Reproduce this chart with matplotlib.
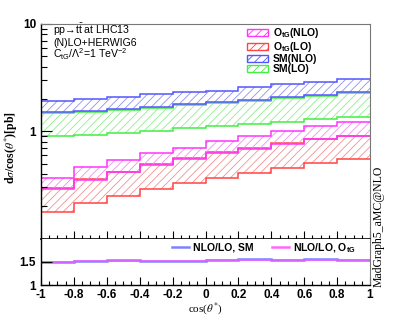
import numpy as np
import matplotlib
matplotlib.use('Agg')
import matplotlib.pyplot as plt
from matplotlib.patches import Patch
from matplotlib.lines import Line2D
from matplotlib.ticker import FixedLocator, NullFormatter, MultipleLocator

plt.rcParams['font.family'] = ['Liberation Sans', 'DejaVu Sans']
plt.rcParams['mathtext.fontset'] = 'custom'
plt.rcParams['mathtext.rm'] = 'Liberation Sans'
plt.rcParams['mathtext.it'] = 'Liberation Sans:italic'
plt.rcParams['mathtext.bf'] = 'Liberation Sans:bold'
plt.rcParams['hatch.linewidth'] = 0.6

# cos(theta*) bins
edges = np.linspace(-1, 1, 11)

# SM NLO band
sm_nlo_hi = [1.93, 2.00, 2.10, 2.21, 2.31, 2.39, 2.61, 2.76, 2.90, 3.05]
sm_nlo_lo = [1.505, 1.55, 1.615, 1.70, 1.79, 1.865, 1.97, 2.09, 2.20, 2.33]
# SM LO band
sm_lo_hi = [1.47, 1.52, 1.58, 1.66, 1.75, 1.83, 1.93, 2.05, 2.15, 2.28]
sm_lo_lo = [0.90, 0.925, 0.965, 1.01, 1.075, 1.13, 1.17, 1.23, 1.295, 1.37]
# O_tG NLO band
otg_nlo_hi = [0.37, 0.462, 0.541, 0.624, 0.704, 0.818, 0.905, 1.014, 1.13, 1.23]
otg_nlo_lo = [0.29, 0.355, 0.415, 0.487, 0.555, 0.635, 0.688, 0.766, 0.84, 0.90]
# O_tG LO band
otg_lo_hi = [0.295, 0.36, 0.42, 0.493, 0.561, 0.642, 0.695, 0.774, 0.849, 0.911]
otg_lo_lo = [0.176, 0.214, 0.252, 0.289, 0.328, 0.37, 0.412, 0.452, 0.504, 0.549]

# NLO/LO ratios
ratio_sm = [1.507, 1.51, 1.54, 1.52, 1.525, 1.545, 1.565, 1.55, 1.565, 1.55]
ratio_otg = [1.49, 1.51, 1.51, 1.52, 1.525, 1.545, 1.53, 1.55, 1.535, 1.55]

W, H = 411, 318
fig = plt.figure(figsize=(W / 100, H / 100), dpi=100)
ax = fig.add_axes([41 / W, 1 - 238.7 / H, 329 / W, 214.7 / H])
rax = fig.add_axes([41 / W, 1 - 285 / H, 329 / W, 46.3 / H], sharex=ax)


def band(a, lo, hi, line_col, hatch_col):
    lo2 = np.append(lo, lo[-1])
    hi2 = np.append(hi, hi[-1])
    a.fill_between(edges, lo2, hi2, step='post', facecolor='none',
                   edgecolor=hatch_col, hatch='////', linewidth=0)
    a.stairs(hi, edges, color=line_col, lw=1.1, baseline=None)
    a.stairs(lo, edges, color=line_col, lw=1.1, baseline=None)


band(ax, sm_lo_lo, sm_lo_hi, '#44ee44', '#90ee90')
band(ax, sm_nlo_lo, sm_nlo_hi, '#5555ff', '#9090ee')
band(ax, otg_lo_lo, otg_lo_hi, '#ff4444', '#f59090')
band(ax, otg_nlo_lo, otg_nlo_hi, '#ff33ff', '#f090f0')

ax.set_yscale('log')
ax.set_ylim(0.1, 10)
ax.set_xlim(-1, 1)
ax.yaxis.set_major_locator(FixedLocator([1, 10]))
ax.yaxis.set_major_formatter(matplotlib.ticker.FixedFormatter(['1', '10']))
ax.yaxis.set_minor_locator(FixedLocator([s * 10.0 ** k for k in (-1, 0) for s in range(2, 10)]))
ax.yaxis.set_minor_formatter(NullFormatter())
ax.xaxis.set_major_locator(MultipleLocator(0.2))
ax.xaxis.set_minor_locator(MultipleLocator(0.05))
ax.tick_params(which='both', direction='in', top=False, right=False, labelbottom=False)
ax.tick_params(axis='y', which='major', length=8, width=0.8)
ax.tick_params(axis='y', which='minor', length=4.5, width=0.8)
ax.tick_params(axis='x', which='major', length=6, width=0.8)
ax.tick_params(axis='x', which='minor', length=3, width=0.8)
for lab in ax.get_yticklabels():
    lab.set_fontweight('bold')
    lab.set_fontsize(8.5)
for s in ('top', 'right'):
    ax.spines[s].set_color('#777777')
    ax.spines[s].set_linewidth(0.8)
ax.spines['left'].set_linewidth(1.0)
ax.spines['bottom'].set_linewidth(1.2)

handles = [Patch(facecolor='none', edgecolor='#ff33ff', hatch='////', lw=1),
           Patch(facecolor='none', edgecolor='#ff4444', hatch='////', lw=1),
           Patch(facecolor='none', edgecolor='#5555ff', hatch='////', lw=1),
           Patch(facecolor='none', edgecolor='#44ee44', hatch='////', lw=1)]
labels = [r'O$_{\bf tG}$(NLO)', r'O$_{\bf tG}$(LO)', 'SM(NLO)', 'SM(LO)']
leg = ax.legend(handles, labels, loc='upper left', bbox_to_anchor=(0.62, 1.0),
                frameon=False, handlelength=2.0, handleheight=0.75, handletextpad=0.45,
                labelspacing=0.0, borderpad=0.2, borderaxespad=0,
                prop={'weight': 'bold', 'size': 7.5})

ax.text(53 / W, 1 - 33.5 / H, r'pp→t$\bar{\rm t}$ at LHC13', transform=fig.transFigure,
        fontsize=7.6, va='baseline')
ax.text(53 / W, 1 - 45.5 / H, '(N)LO+HERWIG6', transform=fig.transFigure,
        fontsize=7.6, va='baseline')
ax.text(53 / W, 1 - 58.5 / H, r'C$_{\rm tG}$/$\Lambda^{2}$=1 TeV$^{-2}$', transform=fig.transFigure,
        fontsize=7.6, va='baseline')

# ratio panel
rax.stairs(ratio_sm, edges, color='#8080ff', lw=1.8, baseline=None)
rax.stairs(ratio_otg, edges, color='#ff55ff', lw=1.1, alpha=0.85, baseline=None)
rax.set_ylim(1, 2)
rax.set_yticks([1, 1.5])
rax.set_yticklabels(['1', '1.5'])
rax.tick_params(which='both', direction='in', top=False, right=False)
rax.tick_params(axis='y', which='major', length=8, width=0.8)
rax.tick_params(axis='x', which='major', length=6, width=0.8, pad=3)
rax.tick_params(axis='x', which='minor', length=3, width=0.8)
rax.set_xticks(np.round(np.arange(-1, 1.01, 0.2), 1))
rax.set_xticklabels(['-1', '-0.8', '-0.6', '-0.4', '-0.2', '0', '0.2', '0.4', '0.6', '0.8', '1'])
for lab in rax.get_xticklabels() + rax.get_yticklabels():
    lab.set_fontweight('bold')
    lab.set_fontsize(8.5)
for s in ('top', 'right'):
    rax.spines[s].set_color('#777777')
    rax.spines[s].set_linewidth(0.8)
rax.spines['top'].set_visible(False)
rax.spines['left'].set_linewidth(1.0)
rax.spines['bottom'].set_linewidth(1.0)

rh = [Line2D([], [], color='#8080ff', lw=1.8), Line2D([], [], color='#ff66ff', lw=1.8)]
rax.legend(rh, ['NLO/LO, SM', r'NLO/LO, O$_{\bf tG}$'], loc='upper right', ncol=2,
           bbox_to_anchor=(0.96, 0.97), frameon=False, handlelength=1.6, handletextpad=0.4,
           columnspacing=1.8, borderpad=0.1, borderaxespad=0,
           prop={'weight': 'bold', 'size': 7.5})

fig.text(205 / W, 1 - 309 / H, r'cos($\theta^{*}$)', family='Liberation Serif',
         fontsize=8, ha='center', va='center', math_fontfamily='stix')
fig.text(11 / W, 1 - 148 / H, r'd$\sigma$/cos($\theta^{*}$)[pb]', family='Liberation Serif',
         fontweight='bold', fontsize=8.5, rotation=90, ha='center', va='center',
         math_fontfamily='stix')
fig.text(379 / W, 1 - 226 / H, 'MadGraph5_aMC@NLO', family='Liberation Serif',
         fontsize=8.5, rotation=90, ha='center', va='center')

fig.savefig('out.png', dpi=100)
